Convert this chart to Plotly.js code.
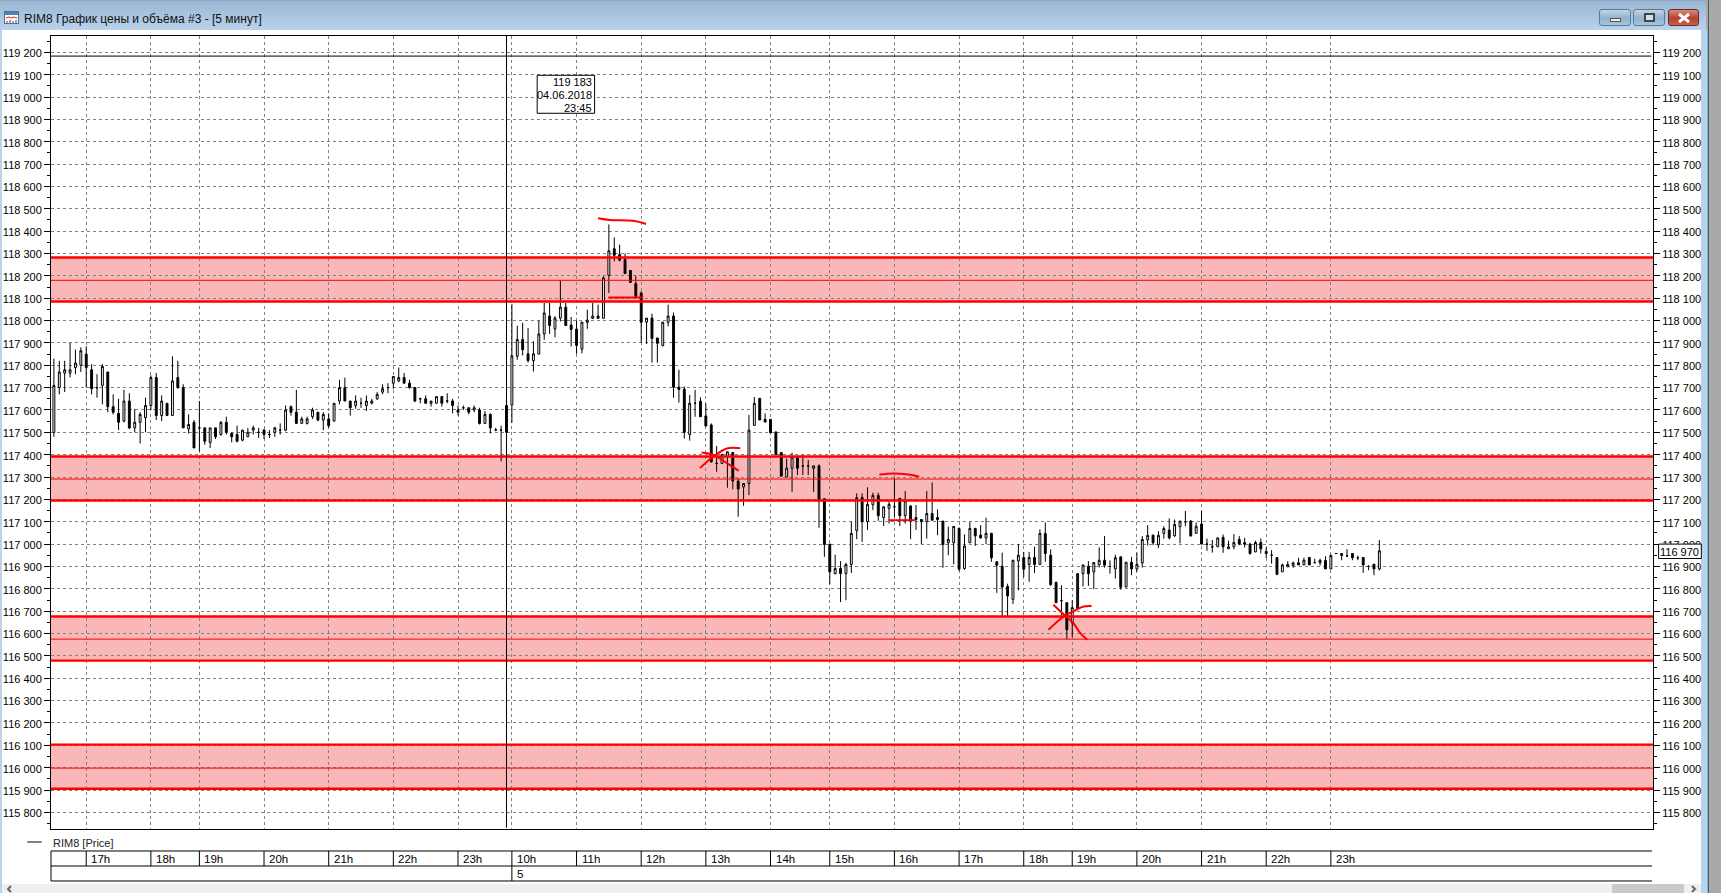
<!DOCTYPE html>
<html><head><meta charset="utf-8">
<script src="https://cdn.plot.ly/plotly-3.0.1.min.js"></script>
<style>
html,body{margin:0;padding:0;width:1721px;height:893px;overflow:hidden;background:#A9A9A9;font-family:"Liberation Sans",sans-serif}
.abs{position:absolute}
#tb{left:0;top:0;width:1706px;height:30px;background:linear-gradient(#9AB6D2,#B9D3EB);border-top:1px solid #8aa6c2;box-sizing:border-box}
#lb{left:0;top:30px;width:2px;height:863px;background:#B9D3EB}
#rb{left:1701px;top:30px;width:6px;height:863px;background:#B9D3EB;border-right:1px solid #6fc0ee}
#rd{left:1708px;top:0;width:1px;height:893px;background:#555}
#cl{left:2px;top:30px;width:1699px;height:863px;background:#fff}
#sb{left:2px;top:884px;width:1699px;height:9px;background:#EFEFEF}
#th{left:1612px;top:884px;width:72px;height:9px;background:#CACACA}
#chart{left:0;top:0;width:1721px;height:893px}
.btn{top:9px;height:17px;border:1px solid #5f7890;border-radius:3px;box-sizing:border-box;background:linear-gradient(#c3d6e8,#8fb0cf 55%,#a9c6e0)}
</style></head><body>
<div class="abs" id="cl"></div><div class="abs" id="tb"></div><div class="abs" id="lb"></div><div class="abs" id="rb"></div><div class="abs" id="rd"></div>
<div class="abs" id="sb"></div><div class="abs" id="th"></div>
<div class="abs btn" style="left:1599px;width:32px"><div class="abs" style="left:10px;top:8px;width:11px;height:4px;background:#eee;border:1px solid #555;box-sizing:border-box"></div></div>
<div class="abs btn" style="left:1633px;width:32px"><div class="abs" style="left:10px;top:3px;width:11px;height:9px;background:#cfe0ef;border:2px solid #444;box-sizing:border-box"></div></div>
<div class="abs btn" style="left:1668px;width:31px;border-color:#6b2a2a;background:linear-gradient(#d98a78,#b8402f 55%,#c8604a)">
<svg class="abs" style="left:9px;top:3px" width="12" height="10"><path d="M1 1L11 9M11 1L1 9" stroke="#fff" stroke-width="3"/></svg></div>
<svg class="abs" style="left:4px;top:11px" width="15" height="13"><rect x=".5" y=".5" width="14" height="12" fill="#fff" stroke="#5a6f8a"/><rect x="1" y="1" width="13" height="3" fill="#4a7fc0"/><path d="M2 7l3-1 2 1 3-1 3 1" stroke="#e02020" fill="none"/><path d="M3 12v-2M6 12v-3M9 12v-2M12 12v-3" stroke="#345"/></svg>
<svg class="abs" style="left:6px;top:885px" width="8" height="8"><path d="M5 1L2 4L5 7" stroke="#666" stroke-width="2" fill="none"/></svg>
<svg class="abs" style="left:1689px;top:885px" width="8" height="8"><path d="M3 1L6 4L3 7" stroke="#666" stroke-width="2" fill="none"/></svg>
<div class="abs" id="chart"></div>
<script>
var windowTitle = "RIM8 График цены и объёма #3 - [5 минут]";
var legendLabel = "RIM8 [Price]";
var opens = [117500,117700,117765,117765,117790,117800,117850,117780,117700,117710,117770,117615,117585,117550,117640,117520,117545,117565,117620,117745,117575,117630,117575,117745,117700,117515,117545,117520,117520,117455,117520,117490,117545,117495,117490,117465,117480,117510,117500,117510,117490,117500,117510,117510,117615,117590,117540,117540,117570,117590,117555,117560,117550,117640,117700,117640,117620,117630,117620,117630,117650,117680,117700,117720,117730,117745,117720,117700,117650,117650,117630,117630,117660,117640,117640,117600,117610,117610,117600,117600,117540,117580,117510,117510,117620,
117622,117840,117915,117851,117821,117850,117940,118020,117962,118011,118060,117980,117962,117872,117992,118010,118020,118010,118202,118321,118295,118273,118224,118165,118123,117993,118011,117922,117889,117992,118020,117702,117693,117490,117630,117639,117573,117533,117361,117361,117391,117410,117282,117256,117271,117531,117652,117558,117558,117501,117410,117300,117339,117386,117350,117350,117339,117350,117203,117000,116868,116891,116868,116909,117060,117209,117100,117176,117218,117119,117160,117167,117205,117127,117170,117110,117110,117100,117137,117119,117103,117006,117006,117070,116891,117006,117070,117040,117028,117048,116921,116901,116811,116753,116925,116940,116909,116940,116909,117048,116950,116829,116747,116738,116647,116711,116868,116901,116876,116907,116928,116900,116889,116943,116808,116919,116889,116916,117019,117040,116997,117048,117063,117037,117078,117100,117103,117048,117090,117000,116988,116988,117030,116979,116988,117021,117007,117000,116965,117007,116967,116950,116940,116876,116898,116904,116917,116907,116940,116917,116916,116927,116889,116958,116949,116947,116958,116939,116940,116900,116910,116889];
var highs = [117830,117820,117820,117900,117870,117880,117885,117805,117760,117805,117770,117670,117650,117690,117675,117605,117590,117655,117755,117765,117665,117630,117840,117820,117715,117580,117555,117640,117520,117520,117520,117550,117570,117500,117530,117510,117520,117530,117520,117515,117510,117525,117540,117620,117620,117690,117570,117570,117610,117590,117590,117585,117630,117735,117745,117640,117665,117655,117665,117650,117680,117715,117720,117750,117790,117765,117735,117700,117655,117665,117640,117660,117660,117675,117650,117620,117620,117610,117620,117610,117595,117585,117520,117530,117620,
118073,117977,117990,117966,117908,118000,118079,118079,118020,118179,118079,118016,118000,117993,118049,118079,118071,118198,118430,118372,118340,118300,118224,118201,118130,118011,118031,117922,117993,118071,118036,117780,117705,117667,117690,117657,117628,117540,117439,117401,117413,117410,117294,117271,117578,117658,117652,117585,117558,117505,117410,117383,117409,117386,117399,117377,117350,117357,117203,117000,116953,116924,116917,117100,117227,117227,117254,117230,117230,117167,117190,117297,117205,117238,117175,117175,117112,117238,117276,117155,117103,117078,117079,117075,117043,117100,117073,117085,117118,117051,116924,116962,116823,116928,117000,116965,116965,116988,117066,117097,116976,116832,116816,116738,116749,116711,116907,116924,116918,116986,117036,116927,116953,116943,116919,116943,116961,117036,117085,117043,117058,117080,117115,117110,117103,117148,117107,117097,117148,117025,117018,117028,117043,117015,117045,117036,117028,117006,117015,117025,116985,116973,116940,116913,116924,116922,116939,116939,116940,116935,116935,116946,116953,116958,116958,116977,116958,116948,116940,116906,116910,117018];
var lows = [117480,117670,117680,117745,117760,117770,117700,117670,117655,117625,117590,117580,117510,117545,117515,117500,117450,117500,117600,117555,117550,117575,117575,117695,117520,117495,117430,117415,117445,117430,117470,117485,117490,117455,117455,117460,117480,117490,117475,117470,117475,117480,117490,117505,117575,117540,117540,117535,117560,117550,117510,117520,117550,117625,117640,117575,117605,117610,117595,117625,117645,117670,117675,117695,117725,117720,117695,117635,117630,117630,117615,117630,117615,117630,117585,117575,117600,117580,117590,117535,117540,117495,117505,117370,117500,
117543,117825,117844,117812,117772,117850,117914,117941,117925,117996,117978,117884,117851,117853,117963,118010,118010,118010,118123,118265,118265,118210,118168,118108,117900,117895,117812,117812,117884,117974,117655,117633,117472,117463,117570,117570,117528,117365,117324,117361,117252,117245,117122,117171,117219,117531,117555,117546,117498,117401,117304,117300,117234,117309,117309,117309,117234,117073,116943,116820,116865,116741,116749,116871,117022,117010,117063,117152,117104,117081,117092,117122,117081,117092,117022,117063,117000,117025,117107,117040,116894,116950,116910,116880,116885,117006,116992,117025,117000,116921,116782,116677,116677,116732,116793,116853,116831,116871,116909,116921,116813,116738,116681,116574,116584,116711,116811,116813,116798,116895,116895,116868,116846,116796,116808,116861,116876,116895,116994,116995,116983,117025,117021,117033,117003,117080,117033,117048,117000,116970,116962,116988,116961,116979,116977,116995,116985,116953,116965,116958,116938,116913,116861,116876,116898,116894,116907,116907,116907,116917,116904,116889,116889,116956,116928,116943,116928,116928,116871,116883,116861,116882];
var closes = [117710,117770,117780,117780,117810,117865,117790,117695,117700,117795,117615,117590,117545,117640,117520,117545,117580,117620,117745,117575,117640,117575,117730,117700,117520,117535,117430,117520,117460,117520,117480,117545,117500,117480,117460,117510,117500,117520,117500,117490,117490,117520,117510,117600,117590,117540,117560,117560,117600,117555,117580,117530,117630,117700,117640,117610,117640,117630,117640,117640,117670,117695,117700,117750,117745,117720,117700,117640,117650,117630,117640,117660,117630,117640,117620,117590,117610,117590,117610,117540,117580,117520,117510,117510,117500,
117842,117915,117870,117821,117851,117940,118034,117978,118011,118060,117978,117960,117889,117993,118002,118020,118010,118191,118312,118292,118270,118210,118171,118108,117992,118011,117920,117898,117993,118020,117702,117692,117500,117630,117630,117570,117528,117368,117361,117401,117413,117282,117247,117271,117510,117630,117555,117546,117498,117401,117304,117340,117389,117339,117350,117350,117350,117197,116998,116876,116891,116868,116909,117048,117208,117100,117178,117218,117127,117167,117178,117167,117127,117193,117104,117119,117100,117137,117107,117110,116998,117021,117079,116888,116991,117070,117037,117028,117048,116939,116906,116808,116768,116928,116950,116888,116940,116909,117048,116958,116819,116738,116747,116617,116716,116868,116907,116868,116918,116928,116906,116900,116939,116807,116919,116889,116910,117021,117039,117006,117039,117070,117028,117088,117103,117100,117037,117080,117000,117000,116988,117028,116988,116988,117007,117000,117000,116958,117007,116979,116958,116950,116865,116907,116909,116916,116907,116928,116907,116917,116927,116889,116949,116958,116958,116947,116939,116939,116907,116900,116889,116970];

var priceTicks = [119200,119100,119000,118900,118800,118700,118600,118500,118400,118300,118200,118100,118000,117900,117800,117700,117600,117500,117400,117300,117200,117100,117000,116900,116800,116700,116600,116500,116400,116300,116200,116100,116000,115900,115800];
var hourIndex = [6,18,27,39,51,63,75,85,97,109,121,133,144,156,168,180,189,201,213,225,237];
var hourLabels = ["17h","18h","19h","20h","21h","22h","23h","10h","11h","12h","13h","14h","15h","16h","17h","18h","19h","20h","21h","22h","23h"];
var dayIndex = [85], dayLabels = ["5"];
var bandTops = [118282,117392,116676,116103];
var bandMids = [118180,117291,116575,115998];
var bandBottoms = [118085,117195,116479,115906];
var crosshairIndex = 84, crosshairPrice = 119183;
var tooltipLines = ["119 183","04.06.2018","23:45"];
var lastPrice = "116 970";
var strokes = [
 {x:[101,103.2,107.5,109.9], y:[118458,118450,118446,118432]},
 {x:[102.9,109.4], y:[118103,118103]},
 {x:[120.2,122.4,124.9,127.1], y:[117410,117399,117362,117328]},
 {x:[119.9,122.4,124.9,127.4], y:[117340,117392,117428,117429]},
 {x:[153.2,155.8,158.6,160.6], y:[117311,117316,117311,117301]},
 {x:[154.9,159.8], y:[117107,117107]},
 {x:[185.5,187.9,189.2,190.5,191.8], y:[116729,116675,116647,116602,116572]},
 {x:[184.6,187.4,189.2,191.1,192.6], y:[116617,116676,116699,116721,116723]}
];

var idx = opens.map(function(_,i){return i;});
var L=51.3,R=1652.7,T=36,B=829.3;
var W=1721,H=893;
function px(x){return (x-L)/(R-L);}
function py(y){return (B-y)/(B-T);}
var FONT="Liberation Sans";
var xr=[(L-54.2)/5.386,(R-54.2)/5.386];
var yTop=119200+(52.3-T)/0.22364, yBot=119200-(B-52.3)/0.22364;

var traces=[{type:'candlestick',x:idx,open:opens,high:highs,low:lows,close:closes,
  whiskerwidth:0,hoverinfo:'skip',
  increasing:{line:{color:'#000',width:1},fillcolor:'#fff'},
  decreasing:{line:{color:'#000',width:1},fillcolor:'#000'},xaxis:'x',yaxis:'y',showlegend:false}];
strokes.forEach(function(s){traces.push({type:'scatter',mode:'lines',x:s.x,y:s.y,line:{color:'#FF0000',width:2,shape:'spline'},hoverinfo:'skip',showlegend:false,xaxis:'x',yaxis:'y'});});
traces.push({type:'scatter',mode:'none',x:[0],y:[117000],xaxis:'x',yaxis:'y2',showlegend:false,hoverinfo:'skip'});

var shapes=[],ann=[];
function line(x0,y0,x1,y1,xref,yref,w,c,layer){shapes.push({type:'line',x0:x0,y0:y0,x1:x1,y1:y1,xref:xref,yref:yref,line:{color:c||'#000',width:w||1},layer:layer||'above'});}
bandTops.forEach(function(t,i){
  shapes.push({type:'rect',xref:'paper',yref:'y',x0:0,x1:1,y0:bandBottoms[i],y1:t,fillcolor:'#F9B7B7',line:{width:0},layer:'below'});
  line(0,t,1,t,'paper','y',2.4,'#FF0000');
  line(0,bandBottoms[i],1,bandBottoms[i],'paper','y',2.4,'#FF0000');
  line(0,bandMids[i],1,bandMids[i],'paper','y',1,'#FF0000');
});
// crosshair
line(crosshairIndex,py(828),crosshairIndex,1,'x','paper',1);
line(0,crosshairPrice,px(1651),crosshairPrice,'paper','y',1);
// hour strip
var r1=851.3,r2=866.3,r3=881.3;
[r1,r2,r3].forEach(function(y){line(0,py(y),px(1651.7),py(y),'paper','paper',1);});
line(0,py(r1),0,py(r3),'paper','paper',1);
hourIndex.forEach(function(i,k){
  line(i,py(r1),i,py(r2),'x','paper',1);
  ann.push({x:i,xref:'x',xshift:3,y:py((r1+r2)/2+1),yref:'paper',text:hourLabels[k],showarrow:false,xanchor:'left',yanchor:'middle',font:{family:FONT,size:11.5,color:'#000'}});
});
dayIndex.forEach(function(i,k){
  line(i,py(r2),i,py(r3),'x','paper',1);
  ann.push({x:i,xref:'x',xshift:3,y:py((r2+r3)/2+1),yref:'paper',text:dayLabels[k],showarrow:false,xanchor:'left',yanchor:'middle',font:{family:FONT,size:11.5,color:'#000'}});
});
// legend
line(px(27.6),py(842.3),px(42),py(842.3),'paper','paper',1);
ann.push({x:px(51.5),y:py(843),xref:'paper',yref:'paper',text:legendLabel,showarrow:false,xanchor:'left',yanchor:'middle',font:{family:FONT,size:11,color:'#222'}});
// title
ann.push({x:px(22.5),y:py(19),xref:'paper',yref:'paper',text:windowTitle,showarrow:false,xanchor:'left',yanchor:'middle',font:{family:"Liberation Sans",size:12,color:'#111'}});
// tooltip
shapes.push({type:'rect',xref:'paper',yref:'paper',x0:px(537.3),x1:px(594.7),y0:py(113.3),y1:py(75.3),fillcolor:'#fff',line:{color:'#000',width:1},layer:'above'});
tooltipLines.forEach(function(t,k){
  ann.push({x:px(594.5),y:py(81.7+13*k),xref:'paper',yref:'paper',xanchor:'right',yanchor:'middle',showarrow:false,text:t,font:{family:FONT,size:11,color:'#000'}});
});
// last price box
shapes.push({type:'rect',xref:'paper',yref:'paper',x0:px(1658.3),x1:px(1701),y0:py(558.7),y1:py(544.3),fillcolor:'#fff',line:{color:'#000',width:1},layer:'above'});
ann.push({x:px(1700.5),y:py(551.7),xref:'paper',yref:'paper',xanchor:'right',yanchor:'middle',text:lastPrice,showarrow:false,font:{family:FONT,size:11,color:'#000'}});

var axisY={range:[yBot,yTop],tickmode:'array',tickvals:priceTicks,tickformat:',d',ticks:'outside',ticklen:6,tickcolor:'#000',tickwidth:1,
  tickfont:{family:FONT,size:11,color:'#000'},showline:true,linecolor:'#000',linewidth:1,mirror:false,
  showgrid:false,zeroline:false,fixedrange:true,ticklabelposition:'outside',ticklabelshift:1,
  minor:{dtick:50,tick0:115750,ticks:'outside',ticklen:3,tickcolor:'#000',tickwidth:1,showgrid:false}};
var yaxis=Object.assign({},axisY,{showgrid:true,gridcolor:'#808080',griddash:'3px,3px',gridwidth:1,side:'left'});
var yaxis2=Object.assign({},axisY,{overlaying:'y',side:'right'});
var layout={width:W,height:H,margin:{l:L,r:W-R,t:T,b:H-B,pad:0},autosize:false,
  paper_bgcolor:'rgba(0,0,0,0)',plot_bgcolor:'#fff',separators:'. ',showlegend:false,boxgap:0.5,dragmode:false,
  font:{family:FONT,size:11,color:'#000'},
  xaxis:{type:'linear',range:xr,tickmode:'array',tickvals:hourIndex,showticklabels:false,ticks:'',showgrid:true,gridcolor:'#808080',griddash:'3px,3px',gridwidth:1,zeroline:false,showline:true,linecolor:'#000',linewidth:1,mirror:true,fixedrange:true,rangeslider:{visible:false}},
  yaxis:yaxis,yaxis2:yaxis2,shapes:shapes,annotations:ann};
Plotly.newPlot('chart',traces,layout,{displayModeBar:false,staticPlot:true});
</script></body></html>
